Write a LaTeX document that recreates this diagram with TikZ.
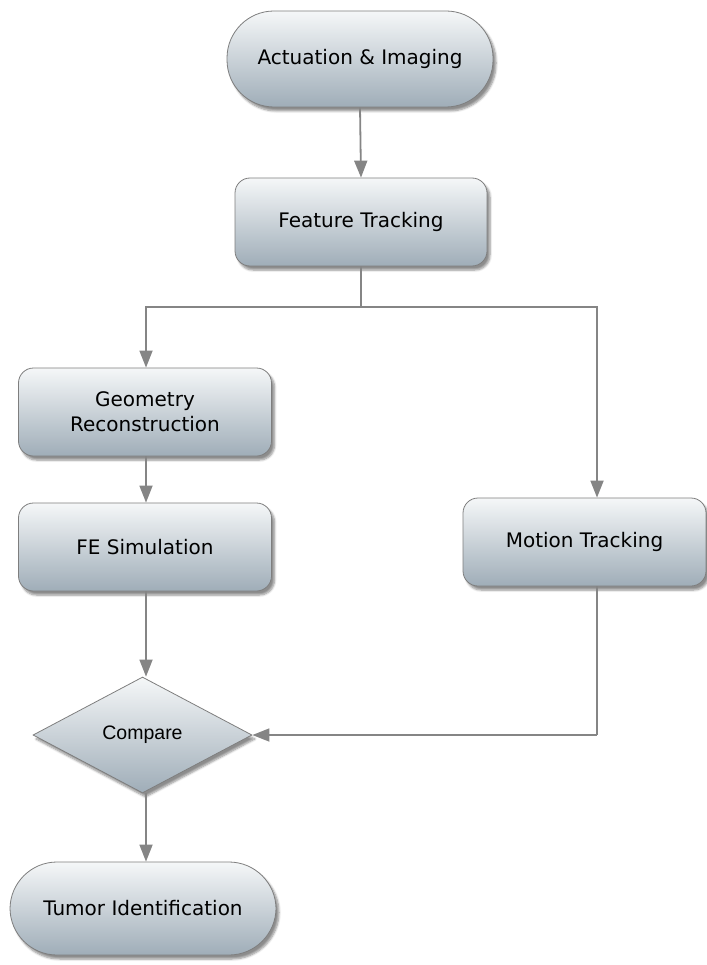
\documentclass[tikz,border=0pt]{standalone}
\usepackage{fontspec}
\setmainfont{DejaVu Sans}
\newfontfamily\arialfont{Liberation Sans}
\usetikzlibrary{shapes.geometric,arrows.meta,shadows.blur}
\definecolor{boxtop}{HTML}{F5F7F8}
\definecolor{boxbot}{HTML}{9FADB8}
\definecolor{edgegray}{HTML}{7E7E7E}
\definecolor{linegray}{HTML}{858585}
\tikzset{
  box/.style={draw=edgegray, line width=0.8pt, top color=boxtop, bottom color=boxbot,
    blur shadow={shadow xshift=3pt, shadow yshift=-4pt, shadow blur steps=6, shadow opacity=45},
    font=\fontsize{20}{25}\selectfont, align=center, inner sep=0pt},
  procbox/.style={box, rounded corners=15pt, minimum width=252pt, minimum height=88pt},
  termbox/.style={box, rounded corners=47pt, minimum width=266pt, minimum height=96pt},
  decbox/.style={box, diamond, minimum width=219pt, minimum height=116pt,
    font=\arialfont\fontsize{19.5}{23}\selectfont},
  flow/.style={draw=linegray, line width=1.8pt},
  arr/.style={flow, -{Triangle[length=17pt,width=13pt]}}
}
\begin{document}
\begin{tikzpicture}[x=1pt,y=-1pt]
  \useasboundingbox (0,0) rectangle (706,965);

  % nodes
  \node[termbox] (act) at (360,59) {Actuation \& Imaging};
  \node[procbox] (feat) at (361,222) {Feature Tracking};
  \node[procbox, minimum width=253pt] (geom) at (145,412) {Geometry\\Reconstruction};
  \node[procbox, minimum width=253pt] (fe) at (145,547) {FE Simulation};
  \node[procbox, minimum width=243pt] (mot) at (584.5,542) {Motion Tracking};
  \node[decbox] (cmp) at (142.5,735) {Compare};
  \node[termbox, minimum height=93pt] (tum) at (143,908.5) {Tumor Identification};

  % branch points
  \coordinate (split) at (361,307);
  \coordinate (splitL) at (146,307);
  \coordinate (splitR) at (597,307);
  \coordinate (joinR) at (597,735);

  % connectors
  \draw[arr] (act.south) -- (feat.north);
  \draw[flow] (feat.south) -- (split);
  \draw[arr] (split) -- (splitL) -- (geom.north -| splitL);
  \draw[arr] (split) -- (splitR) -- (mot.north -| splitR);
  \draw[arr] (geom.south -| splitL) -- (fe.north -| splitL);
  \draw[arr] (fe.south -| splitL) -- (cmp.north -| splitL);
  \draw[flow] (mot.south -| splitR) -- (joinR);
  \draw[arr] (joinR) -- (cmp.east);
  \draw[arr] (cmp.south -| splitL) -- (tum.north -| splitL);
\end{tikzpicture}
\end{document}
